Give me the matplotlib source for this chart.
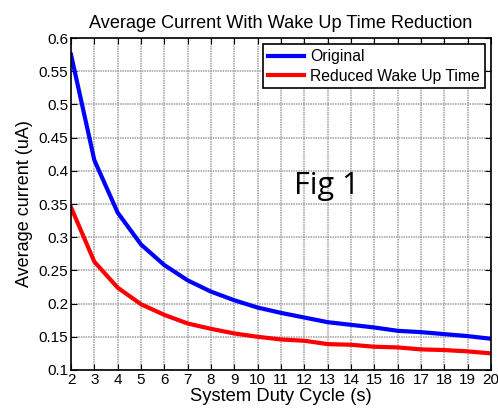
import matplotlib
matplotlib.use("Agg")
import matplotlib.pyplot as plt
import numpy as np

# duty cycle values (s)
duty_cycle = np.arange(2, 21)

# average current (uA)
original = [0.575, 0.416, 0.337, 0.289, 0.258, 0.235, 0.218, 0.205, 0.194, 0.186,
            0.179, 0.172, 0.168, 0.164, 0.159, 0.157, 0.154, 0.151, 0.147]
reduced = [0.345, 0.263, 0.224, 0.199, 0.183, 0.170, 0.162, 0.155, 0.150, 0.146,
           0.144, 0.139, 0.138, 0.135, 0.134, 0.131, 0.130, 0.128, 0.125]

y_ticks = [0.1, 0.15, 0.2, 0.25, 0.3, 0.35, 0.4, 0.45, 0.5, 0.55, 0.6]

plt.rcParams['font.family'] = ['Liberation Sans', 'DejaVu Sans']

fig = plt.figure(figsize=(4.98, 4.09), dpi=100)
ax = fig.add_axes([0.1426, 0.0954, 0.8434, 0.8116])

ax.plot(duty_cycle, original, color='blue', lw=3, label='Original')
ax.plot(duty_cycle, reduced, color='red', lw=3, label='Reduced Wake Up Time')

ax.set_xlim(2, 20)
ax.set_ylim(0.1, 0.6)
ax.set_xticks(duty_cycle)
ax.set_yticks(y_ticks)
ax.set_yticklabels([f"{v:g}" for v in y_ticks])
ax.tick_params(direction='in', top=True, right=True, labelsize=11, length=4, pad=2)
ax.grid(True, color='#a0a0a0', linestyle=(0, (1, 0.6)), linewidth=1.1)
for s in ax.spines.values():
    s.set_linewidth(1.2)

ax.set_title('Average Current With Wake Up Time Reduction', fontsize=13.1, pad=7)
ax.set_xlabel('System Duty Cycle (s)', fontsize=13.2, labelpad=1)
ax.set_ylabel('Average current (uA)', fontsize=13, labelpad=4)

leg = ax.legend(loc='upper right', fontsize=11.3, fancybox=False, framealpha=1,
                edgecolor='black', borderpad=0.3, handlelength=2.3,
                handletextpad=0.4, labelspacing=0.3, borderaxespad=0.4)
leg.get_frame().set_linewidth(1.2)

ax.text(0.61, 0.555, 'Fig 1', transform=ax.transAxes, fontsize=22,
        family='Open Sans', ha='center', va='center')

fig.savefig('out.png', dpi=100)
